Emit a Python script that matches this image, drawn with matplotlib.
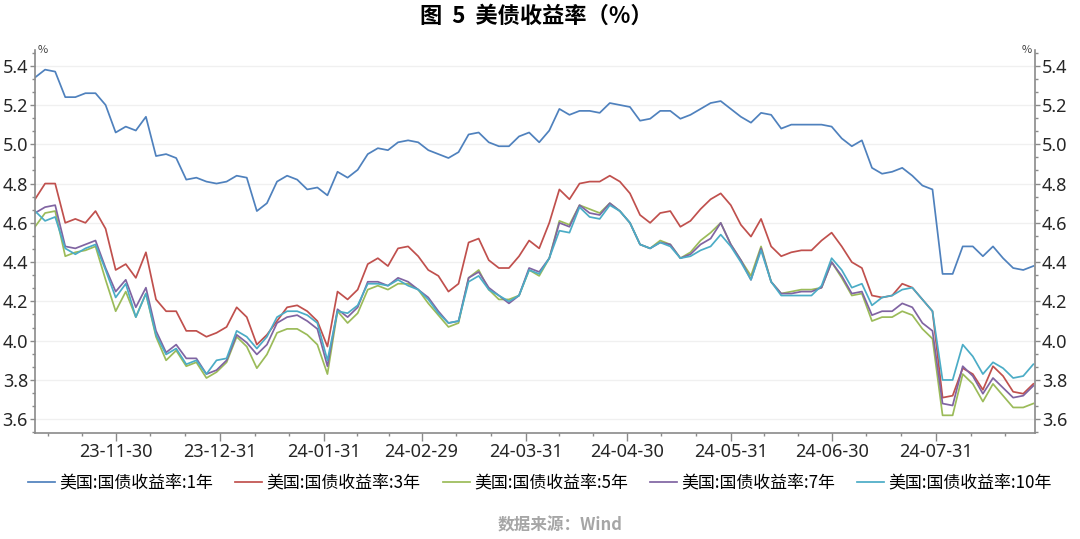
import pandas as pd
import matplotlib
matplotlib.use("Agg")
import matplotlib.pyplot as plt
import matplotlib.dates as mdates
from matplotlib.ticker import MultipleLocator, AutoMinorLocator

plt.rcParams['font.family'] = ['Noto Sans CJK SC', 'DejaVu Sans']

# yields sampled every 3 days, 2023-11-06 .. 2024-08-29
dates = pd.date_range("2023-11-06", periods=100, freq="3D")

y1 = [5.34, 5.38, 5.37, 5.24, 5.24, 5.26, 5.26, 5.20, 5.06, 5.09, 5.07, 5.14, 4.94, 4.95, 4.93, 4.82, 4.83, 4.81,
      4.80, 4.81, 4.84, 4.83, 4.66, 4.70, 4.81, 4.84, 4.82, 4.77, 4.78, 4.74, 4.86, 4.83, 4.87, 4.95,
      4.98, 4.97, 5.01, 5.02, 5.01, 4.97, 4.95, 4.93, 4.96, 5.05, 5.06, 5.01, 4.99, 4.99, 5.04, 5.06, 5.01, 5.07,
      5.18, 5.15, 5.17, 5.17, 5.16, 5.21, 5.20, 5.19, 5.12, 5.13, 5.17, 5.17, 5.13, 5.15, 5.18, 5.21,
      5.22, 5.18, 5.14, 5.11, 5.16, 5.15, 5.08, 5.10, 5.10, 5.10, 5.10, 5.09, 5.03, 4.99, 5.02, 4.88, 4.85,
      4.86, 4.88, 4.84, 4.79, 4.77, 4.34, 4.34, 4.48, 4.48, 4.43, 4.48, 4.42, 4.37, 4.36, 4.38]
y3 = [4.72, 4.80, 4.80, 4.60, 4.62, 4.60, 4.66, 4.57, 4.36, 4.39, 4.32, 4.45, 4.21, 4.15, 4.15, 4.05, 4.05, 4.02,
      4.04, 4.07, 4.17, 4.12, 3.98, 4.03, 4.10, 4.17, 4.18, 4.15, 4.10, 3.97, 4.25, 4.21, 4.26, 4.39,
      4.42, 4.38, 4.47, 4.48, 4.43, 4.36, 4.33, 4.25, 4.29, 4.50, 4.52, 4.41, 4.37, 4.37, 4.43, 4.51, 4.47, 4.60,
      4.77, 4.72, 4.80, 4.81, 4.81, 4.84, 4.81, 4.75, 4.64, 4.60, 4.65, 4.66, 4.58, 4.61, 4.67, 4.72,
      4.75, 4.69, 4.59, 4.53, 4.62, 4.48, 4.43, 4.45, 4.46, 4.46, 4.51, 4.55, 4.48, 4.40, 4.37, 4.23, 4.22,
      4.23, 4.29, 4.27, 4.21, 4.15, 3.71, 3.72, 3.86, 3.83, 3.75, 3.87, 3.82, 3.74, 3.73, 3.78]
y5 = [4.58, 4.65, 4.66, 4.43, 4.45, 4.46, 4.48, 4.31, 4.15, 4.25, 4.12, 4.24, 4.02, 3.90, 3.95, 3.87, 3.89, 3.81,
      3.84, 3.89, 4.02, 3.97, 3.86, 3.93, 4.04, 4.06, 4.06, 4.03, 3.98, 3.83, 4.15, 4.09, 4.14, 4.26,
      4.28, 4.26, 4.29, 4.29, 4.26, 4.19, 4.13, 4.07, 4.09, 4.32, 4.36, 4.26, 4.21, 4.21, 4.23, 4.36, 4.33, 4.42,
      4.61, 4.59, 4.69, 4.67, 4.65, 4.70, 4.66, 4.60, 4.49, 4.47, 4.51, 4.49, 4.42, 4.45, 4.51, 4.55,
      4.60, 4.49, 4.41, 4.33, 4.48, 4.30, 4.24, 4.25, 4.26, 4.26, 4.27, 4.40, 4.32, 4.23, 4.24, 4.10, 4.12,
      4.12, 4.15, 4.13, 4.06, 4.01, 3.62, 3.62, 3.83, 3.78, 3.69, 3.78, 3.72, 3.66, 3.66, 3.68]
y7 = [4.65, 4.68, 4.69, 4.48, 4.47, 4.49, 4.51, 4.37, 4.25, 4.31, 4.17, 4.27, 4.05, 3.94, 3.98, 3.91, 3.91, 3.83,
      3.85, 3.90, 4.03, 3.99, 3.93, 3.98, 4.09, 4.12, 4.13, 4.10, 4.06, 3.87, 4.16, 4.12, 4.17, 4.30,
      4.30, 4.28, 4.32, 4.30, 4.26, 4.22, 4.15, 4.09, 4.10, 4.32, 4.35, 4.27, 4.23, 4.19, 4.23, 4.37, 4.35, 4.42,
      4.60, 4.58, 4.69, 4.65, 4.64, 4.70, 4.66, 4.60, 4.49, 4.47, 4.50, 4.49, 4.42, 4.44, 4.49, 4.52,
      4.60, 4.49, 4.41, 4.31, 4.47, 4.30, 4.24, 4.24, 4.25, 4.25, 4.27, 4.40, 4.33, 4.24, 4.25, 4.13, 4.15,
      4.15, 4.19, 4.17, 4.09, 4.05, 3.68, 3.67, 3.87, 3.82, 3.73, 3.81, 3.76, 3.71, 3.72, 3.77]
y10 = [4.66, 4.61, 4.63, 4.47, 4.44, 4.47, 4.49, 4.36, 4.22, 4.29, 4.12, 4.24, 4.03, 3.93, 3.96, 3.88, 3.90, 3.83,
       3.90, 3.91, 4.05, 4.02, 3.96, 4.02, 4.12, 4.15, 4.15, 4.13, 4.09, 3.90, 4.15, 4.14, 4.18, 4.29,
       4.29, 4.28, 4.31, 4.28, 4.26, 4.21, 4.14, 4.09, 4.10, 4.30, 4.33, 4.26, 4.23, 4.20, 4.23, 4.36, 4.34, 4.42,
       4.56, 4.55, 4.68, 4.63, 4.62, 4.69, 4.66, 4.60, 4.49, 4.47, 4.50, 4.48, 4.42, 4.43, 4.46, 4.48,
       4.54, 4.48, 4.40, 4.31, 4.46, 4.30, 4.23, 4.23, 4.23, 4.23, 4.28, 4.42, 4.36, 4.27, 4.29, 4.18, 4.22,
       4.23, 4.26, 4.27, 4.21, 4.15, 3.80, 3.80, 3.98, 3.92, 3.83, 3.89, 3.86, 3.81, 3.82, 3.88]

series = [y1, y3, y5, y7, y10]
labels = ["美国:国债收益率:1年", "美国:国债收益率:3年", "美国:国债收益率:5年",
          "美国:国债收益率:7年", "美国:国债收益率:10年"]
colors = ["#4f81bd", "#c0504d", "#9bbb59", "#8064a2", "#4bacc6"]

tick_dates = ["2023-11-30", "2023-12-31", "2024-01-31", "2024-02-29", "2024-03-31",
              "2024-04-30", "2024-05-31", "2024-06-30", "2024-07-31"]

fig = plt.figure(figsize=(10.8, 5.39), dpi=100)
ax = fig.add_axes([35 / 1080, 1 - 433 / 539, 1000 / 1080, 383 / 539])

for vals, lab, c in zip(series, labels, colors):
    ax.plot(dates, vals, color=c, lw=1.25, label=lab)

ax.set_xlim(pd.Timestamp("2023-11-06"), pd.Timestamp("2024-08-29 12:00"))
ax.set_ylim(3.53, 5.48)

# month-end labels, minor ticks at thirds of each month
majors = pd.to_datetime(tick_dates)
edges = pd.to_datetime(["2023-10-31"] + tick_dates + ["2024-08-31"])
minors = []
for a, b in zip(edges[:-1], edges[1:]):
    minors += [a + (b - a) / 3, a + 2 * (b - a) / 3]
minors = [m for m in minors if pd.Timestamp("2023-11-06") <= m <= pd.Timestamp("2024-08-29")]
ax.set_xticks(mdates.date2num(majors))
ax.set_xticklabels([d.strftime("%y-%m-%d") for d in majors])
ax.set_xticks(mdates.date2num(pd.DatetimeIndex(minors)), minor=True)

ax.yaxis.set_major_locator(MultipleLocator(0.2))
ax.yaxis.set_minor_locator(AutoMinorLocator(3))
ax.yaxis.set_major_formatter(matplotlib.ticker.FormatStrFormatter("%.1f"))
ax.yaxis.set_ticks_position("both")
ax.tick_params(axis="y", which="both", labelleft=True, labelright=True)

axis_col = "#8a8a8a"
for s in ["left", "right", "bottom"]:
    ax.spines[s].set_color(axis_col)
    ax.spines[s].set_linewidth(1.2)
ax.spines["top"].set_visible(False)

ax.tick_params(which="both", direction="out", color=axis_col, width=1.0)
ax.tick_params(axis="x", which="major", length=5.5, pad=2)
ax.tick_params(axis="x", which="minor", length=2.5)
ax.tick_params(axis="y", which="major", length=3.5, pad=1.5)
ax.tick_params(axis="y", which="minor", length=2.5)
for t in ax.get_xticklabels() + ax.get_yticklabels():
    t.set_fontfamily(["Noto Sans", "DejaVu Sans"])
    t.set_fontsize(13)
    t.set_color("#262626")

ax.grid(axis="y", which="major", color="#f0f0f0", lw=1.0)
ax.set_axisbelow(True)

ax.text(0.003, 1.0, "%", transform=ax.transAxes, fontsize=8, ha="left", va="center", color="#404040")
ax.text(0.997, 1.0, "%", transform=ax.transAxes, fontsize=8, ha="right", va="center", color="#404040")

fig.text(0.497, 1 - 16 / 539, "图  5  美债收益率（%）", ha="center", va="center",
         fontsize=16, fontweight="bold", color="black")

fig.legend(loc="center", bbox_to_anchor=(0.5, 1 - 483 / 539), ncol=5, frameon=False,
           fontsize=12.2, handlelength=1.6, handletextpad=0.25, columnspacing=1.3)

fig.text(560 / 1080, 1 - 525 / 539, "数据来源：Wind", ha="center", va="center",
         fontsize=12, fontweight="bold", color="#a6a6a6")

fig.savefig("out.png", dpi=100)
